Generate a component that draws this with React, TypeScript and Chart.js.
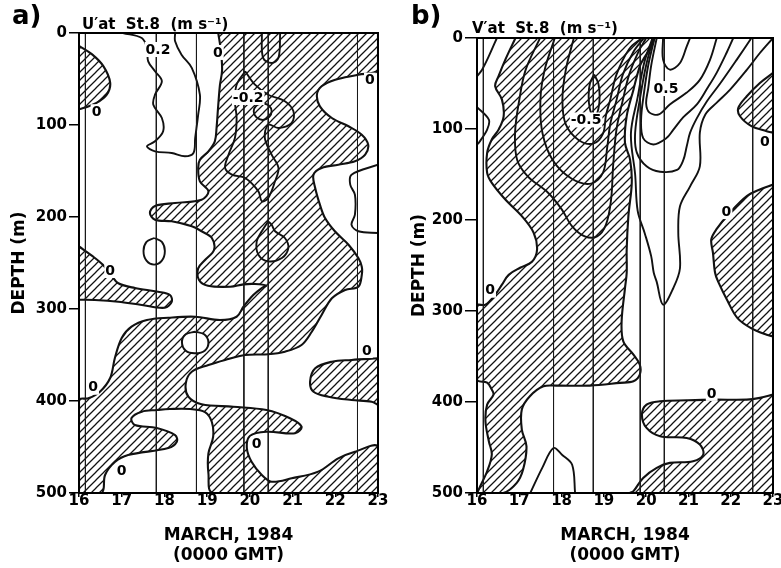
import { useEffect, useRef } from 'react';
import { Chart, registerables } from 'chart.js';

Chart.register(...registerables);

type P = [number, number];
type Label = [string, number, number];

// ---------- axes ----------
const xTickValues = [16, 17, 18, 19, 20, 21, 22, 23];
const depthTickValues = [0, 100, 200, 300, 400, 500];
const xTitle = ['MARCH, 1984', '(0000 GMT)'];
const yTitle = 'DEPTH (m)';
// station (vertical) lines, days of March 1984
const stationTimes = [16.15, 17.81, 18.75, 19.86, 20.43, 22.52];

// ---------- panel a : U' ----------
const aLobe: P[] = [[16, 14], [16.3, 23], [16.57, 36], [16.73, 54], [16.65, 67], [16.41, 76], [16.14, 81], [16, 83]];
const aTongue: P[] = [[16, 232], [16.3, 242], [16.56, 252], [16.75, 263], [16.92, 272], [17.31, 277.2], [17.85, 281.2], [18.13, 284.8], [18.17, 292.1], [18.01, 298.6], [17.47, 295.7], [16.92, 292.1], [16.37, 290.2], [16, 290]];
const aMain: P[] = [
  [19.26, 0], [23, 0], [23, 40],
  [22.54, 45.3], [22.0, 50.8], [21.68, 57.9], [21.57, 67.1], [21.64, 79.7], [21.92, 92.4], [22.31, 101.4], [22.62, 110.5], [22.77, 121.4], [22.7, 132.3], [22.46, 139.5], [22.07, 143.2], [21.68, 146.7], [21.49, 154], [21.53, 168.5], [21.64, 186.6], [21.76, 201.1], [21.99, 215.5], [22.31, 230.1], [22.54, 244.6], [22.62, 254], [22.62, 263], [22.54, 275.8], [22.23, 279.3], [21.92, 288.4], [21.68, 306.5], [21.45, 324.7], [21.21, 339.1], [20.82, 346.4], [20.43, 349.2], [19.89, 350], [19.42, 355.4], [19.03, 360.9], [18.64, 368.2], [18.5, 380.8], [18.56, 395.3], [18.87, 403.6], [19.61, 406.2], [20.39, 409.8], [20.94, 418.8], [21.21, 427.9], [21.06, 435.1], [20.39, 433.4], [20.0, 438], [19.93, 451.4], [20.04, 466], [20.28, 480.4], [20.51, 487.7], [20.98, 484], [21.6, 476.8], [22.07, 462.3], [22.46, 455.1], [23, 449.7],
  [23, 500], [19.14, 500],
  [19.03, 478.6], [19.03, 456.9], [19.14, 439.1], [19.11, 422.8], [18.95, 412], [18.6, 408.7], [18.13, 408.7], [17.82, 409.8], [17.47, 411.6], [17.23, 418.5], [17.31, 426.1], [17.82, 429.3], [18.25, 437], [18.29, 444.2], [18.09, 451.1], [17.15, 458.7], [16.84, 466.3], [16.61, 480.4], [16.53, 500],
  [16, 500], [16, 399],
  [16.22, 397.1], [16.49, 389.9], [16.73, 375], [16.84, 353.3], [17.0, 331.5], [17.23, 319.2], [17.59, 312], [18.09, 309.5], [18.72, 308.4], [19.3, 312], [19.69, 308.4], [19.85, 297.5], [20.08, 284.8], [20.28, 277.2], [20.38, 274.5],
  [20.12, 272.8], [19.85, 273.2], [19.54, 275.8], [19.02, 274.7], [18.81, 268.5], [18.79, 255.8], [18.95, 246.7], [19.16, 235.9], [19.11, 222.8], [18.87, 215.5], [18.64, 210.1], [18.17, 204.7], [17.78, 202.9], [17.66, 195.7], [17.78, 188], [18.25, 184.8], [18.87, 181.2], [19.03, 172.1], [18.83, 161.2], [18.79, 146.7], [18.83, 137.7], [19.03, 128.6], [19.18, 117.7], [19.22, 103.3], [19.26, 78.3], [19.3, 56.5], [19.35, 40.2], [19.32, 18.5], [19.26, 0],
];
const aRightTongue: P[] = [[23, 353.6], [22.38, 355.4], [21.92, 357.3], [21.53, 364.5], [21.41, 379], [21.49, 389.9], [21.84, 395.3], [22.38, 398.9], [22.85, 400.8], [23, 404.3]];
const aHole: P[] = [[18.72, 324.7], [18.93, 327.5], [19.03, 336], [18.95, 345], [18.72, 348.2], [18.5, 345.5], [18.41, 336], [18.5, 327.5], [18.72, 324.7]];

const aLine02: P[] = [[17.03, 0], [17.47, 5.4], [17.59, 16.3], [17.62, 30.8], [17.78, 41.6], [17.94, 52.5], [17.78, 67], [17.74, 77.9], [17.94, 92.4], [17.97, 106.8], [17.78, 117.7], [17.59, 123.2], [17.78, 128.6], [18.17, 130.4], [18.48, 134], [18.68, 130.4], [18.72, 114.1], [18.79, 88.8], [18.83, 67], [18.64, 38], [18.4, 23.6], [18.25, 9], [18.25, 0]];
const aLoopSmall: P[] = [[17.76, 222.8], [17.94, 227], [18.01, 237], [17.94, 247.5], [17.76, 251.8], [17.58, 247.5], [17.51, 237], [17.58, 227], [17.76, 222.8]];
const aNeg02: P[] = [[19.89, 41.6], [20.12, 56.2], [20.43, 67.1], [20.82, 74.2], [21.02, 85.1], [20.98, 97.8], [20.67, 103.3], [20.43, 99.7], [20.35, 114.1], [20.51, 132.3], [20.67, 146.7], [20.59, 161.2], [20.43, 179.3], [20.28, 182.9], [20.2, 172.1], [19.89, 157.6], [19.58, 154], [19.42, 146.7], [19.5, 132.3], [19.65, 114.1], [19.69, 92.4], [19.65, 74.2], [19.69, 56.2], [19.89, 41.6]];
const aNegInner: P[] = [[20.3, 76], [20.45, 79], [20.51, 85], [20.45, 91.5], [20.3, 94.5], [20.15, 91.5], [20.09, 85], [20.15, 79], [20.3, 76]];
const aLoopMid: P[] = [[20.43, 204.7], [20.28, 215.5], [20.16, 226.4], [20.2, 241], [20.43, 248.2], [20.75, 244.6], [20.9, 233.7], [20.82, 222.8], [20.59, 215.5], [20.51, 208.4], [20.43, 204.7]];
const aTopU: P[] = [[20.28, 0], [20.31, 27], [20.51, 32.6], [20.67, 27], [20.71, 0]];
const aRightBulge: P[] = [[23, 143.2], [22.38, 154], [22.35, 164.9], [22.46, 175.8], [22.46, 197.5], [22.38, 208.4], [22.54, 215.5], [23, 217.4]];

const aLabels: Label[] = [
  ['0.2', 17.85, 17.4], ['0', 19.25, 20.6], ['0', 22.81, 50.7], ['-0.2', 19.96, 69.6], ['0', 16.41, 85],
  ['0', 16.73, 257.6], ['0', 22.74, 344.6], ['0', 16.33, 384.5], ['0', 17.0, 475], ['0', 20.16, 446],
];

// ---------- panel b : V' ----------
const bMain: P[] = [
  [16.91, 0], [20.12, 0],
  [19.85, 31.1], [19.7, 56.8], [19.54, 85.9], [19.5, 115.3], [19.62, 133.6], [19.66, 159.2], [19.58, 195.7], [19.54, 232.4], [19.54, 258], [19.5, 274.8], [19.42, 311.4], [19.46, 333.4], [19.7, 348], [19.85, 359], [19.85, 369.9], [19.7, 377.3], [19.38, 379], [18.67, 382], [17.88, 382], [17.57, 382.8], [17.25, 393.7], [17.06, 408.3], [17.06, 430.3], [17.17, 448.6], [17.09, 474.2], [16.94, 488.8], [16.62, 500],
  [16.02, 500], [16.04, 496.2], [16.24, 476.1], [16.35, 457.7], [16.28, 443.1], [16.2, 421.2], [16.24, 402.9], [16.39, 391.9], [16.35, 386.4], [16.24, 378.7], [16, 375.4],
  [16, 294.2], [16.2, 293.1], [16.43, 282.1], [16.59, 271.1], [16.75, 260.2], [17.02, 252.5], [17.3, 245.9], [17.42, 232.7], [17.34, 214], [17.06, 195.7], [16.67, 177.5], [16.35, 159.2], [16.24, 148.2], [16.24, 126.2], [16.35, 111.6], [16.51, 100.7], [16.63, 86], [16.59, 67.7], [16.43, 53], [16.51, 42], [16.67, 23.8], [16.91, 0],
];
const bLobeTop: P[] = [[23, 38.4], [22.69, 49.4], [22.38, 64], [22.18, 76.8], [22.22, 86], [22.49, 96.9], [22.85, 102.4], [23, 104.3]];
const bLobeMid: P[] = [[23, 161], [22.69, 166.5], [22.38, 173.8], [21.98, 192.1], [21.66, 210.4], [21.54, 221.4], [21.58, 236], [21.63, 258], [21.7, 267.5], [21.93, 289.4], [22.16, 307.8], [22.48, 318.8], [22.85, 326.1], [23, 327.9]];
const bBottom: P[] = [[23, 391.9], [22.69, 395.5], [22.38, 397.4], [21.59, 397.4], [20.96, 398.1], [20.33, 399.2], [20.01, 402.9], [19.9, 413.9], [20.01, 428.5], [20.33, 437.7], [20.96, 439.5], [21.27, 446.8], [21.35, 457.8], [21.11, 465.1], [20.56, 466.9], [20.25, 472.4], [19.93, 483.4], [19.7, 498], [19.62, 500], [23, 500]];

const bTopLeft: P[] = [[16.47, 0], [16.28, 20], [16.12, 34.8], [16, 42]];
const bBump: P[] = [[16, 76], [16.28, 89.7], [16.24, 100.7], [16.04, 115.3], [16, 117]];
const bTent: P[] = [[17.26, 500], [17.54, 472.6], [17.81, 450.6], [18.01, 458], [18.25, 469], [18.32, 500]];
const bNeg1: P[] = [[17.49, 0], [17.15, 35], [17.0, 68], [16.9, 104], [16.95, 134], [17.2, 152], [17.68, 170], [18.0, 188], [18.25, 207], [18.55, 218], [18.84, 218], [19.05, 205], [19.17, 178], [19.22, 140], [19.3, 100], [19.45, 68], [19.6, 40], [19.82, 15], [20.0, 0]];
const bNeg2: P[] = [[17.84, 0], [17.6, 35], [17.5, 68], [17.55, 105], [17.8, 135], [18.25, 155], [18.7, 160], [18.98, 148], [19.08, 120], [19.15, 95], [19.3, 68], [19.45, 40], [19.7, 15], [19.95, 0]];
const bNeg3: P[] = [[18.29, 0], [18.1, 35], [18.02, 68], [18.1, 95], [18.4, 112], [18.75, 116], [18.98, 105], [19.05, 85], [19.15, 68], [19.3, 40], [19.6, 12], [19.9, 0]];
const bNeg4: P[] = [[18.77, 40], [18.87, 50], [18.9, 64], [18.87, 78], [18.77, 88], [18.67, 78], [18.64, 64], [18.67, 50], [18.77, 40]];
const bPos1: P[] = [[20.15, 0], [19.95, 28], [19.8, 65], [19.64, 105], [19.74, 150], [19.8, 190], [19.97, 215], [20.12, 240], [20.18, 258], [20.25, 268], [20.4, 293], [20.64, 275], [20.8, 253], [20.76, 214], [20.8, 185], [21.04, 163], [21.27, 141], [21.27, 104], [21.4, 84], [21.67, 71], [21.98, 57], [22.38, 35], [22.69, 16.5], [23, 0]];
const bPos2: P[] = [[20.17, 0], [20.0, 30], [19.86, 65], [19.74, 104], [19.78, 126], [20.01, 141], [20.33, 147], [20.73, 145], [20.88, 134], [20.96, 119], [21.04, 104], [21.2, 88], [21.43, 70], [21.75, 50], [22.14, 24], [22.49, 0]];
const bPos3: P[] = [[20.2, 0], [20.05, 30], [19.95, 60], [19.88, 90], [19.93, 110], [20.17, 117], [20.48, 110], [20.64, 101], [20.88, 87], [21.2, 73], [21.45, 55], [21.67, 38], [21.9, 16.5], [22.06, 0]];
const bPos4: P[] = [[20.25, 0], [20.12, 30], [20.05, 55], [20.0, 72], [20.08, 82], [20.3, 84], [20.56, 73], [20.96, 60], [21.27, 46], [21.51, 24], [21.67, 0]];
const bPos5: P[] = [[20.4, 0], [20.4, 23.8], [20.56, 34.8], [20.8, 27.4], [20.96, 9.1], [21.04, 0]];

const bLabels: Label[] = [
  ['0', 16.31, 276.6], ['-0.5', 18.58, 89.5], ['0.5', 20.47, 55], ['0', 22.81, 113.4], ['0', 21.9, 190.2], ['0', 21.55, 390],
];

// ---------- rendering ----------
const FONT = '"DejaVu Sans", "Liberation Sans", Arial, sans-serif';

interface PanelCfg {
  hatch: P[][];
  holes: P[][];
  lines: P[][];
  labels: Label[];
  tag: string;
  sub: string;
  padLeft: number;
  padRight: number;
  padTop: number;
  yWidth: number;
  yTick: number;
  yTitlePad: number;
  tagX: number;
  tagY: number;
  subX: number;
  subY: number;
}

const panelA: PanelCfg = {
  hatch: [aLobe, aTongue, aMain, aRightTongue],
  holes: [aHole],
  lines: [aLine02, aLoopSmall, aNeg02, aNegInner, aLoopMid, aTopU, aRightBulge],
  labels: aLabels,
  tag: 'a)',
  sub: 'U\u2032at  St.8  (m s\u207B\u00B9)',
  padLeft: 0, padRight: 403, padTop: 33, yWidth: 79, yTick: 10, yTitlePad: 9,
  tagX: 12, tagY: 24, subX: 82, subY: 29,
};

const panelB: PanelCfg = {
  hatch: [bMain, bLobeTop, bLobeMid, bBottom],
  holes: [],
  lines: [bTopLeft, bBump, bTent, bNeg1, bNeg2, bNeg3, bNeg4, bPos1, bPos2, bPos3, bPos4, bPos5],
  labels: bLabels,
  tag: 'b)',
  sub: 'V\u2032at  St.8  (m s\u207B\u00B9)',
  padLeft: 390, padRight: 8, padTop: 38, yWidth: 87, yTick: 12, yTitlePad: 19,
  tagX: 411, tagY: 24, subX: 472, subY: 33,
};

function makeHatch(): CanvasPattern | string {
  const c = document.createElement('canvas');
  c.width = 8;
  c.height = 8;
  const g = c.getContext('2d');
  if (!g) return '#888';
  g.strokeStyle = '#111';
  g.lineWidth = 1.25;
  g.beginPath();
  g.moveTo(-2, 10); g.lineTo(10, -2);
  g.moveTo(-2, 2); g.lineTo(2, -2);
  g.moveTo(6, 10); g.lineTo(10, 6);
  g.stroke();
  return g.createPattern(c, 'repeat') || '#888';
}

const pts = (p: P[]) => p.map(([x, y]) => ({ x, y }));

function buildDatasets(cfg: PanelCfg, pattern: CanvasPattern | string) {
  const common = { pointRadius: 0, pointHoverRadius: 0, clip: 0 as any };
  const out: any[] = [];
  for (const t of stationTimes) {
    out.push({ ...common, data: [{ x: t, y: 0 }, { x: t, y: 500 }], borderColor: '#1a1a1a', borderWidth: 1, tension: 0, fill: false, order: 1 });
  }
  for (const l of cfg.lines) {
    out.push({ ...common, data: pts(l), borderColor: '#111', borderWidth: 1.9, tension: 0.35, fill: false, order: 2 });
  }
  for (const h of cfg.holes) {
    out.push({ ...common, data: pts(h), borderColor: '#111', borderWidth: 2, backgroundColor: '#fff', tension: 0.35, fill: 'shape', order: 3 });
  }
  for (const h of cfg.hatch) {
    out.push({ ...common, data: pts(h), borderColor: '#111', borderWidth: 2.1, backgroundColor: pattern, tension: 0.35, fill: 'shape', order: 4 });
  }
  return out;
}

function makeDecor(cfg: PanelCfg) {
  return {
    id: 'decor',
    afterDatasetsDraw(chart: any) {
      const { ctx, chartArea: a, scales } = chart;
      ctx.save();
      ctx.strokeStyle = '#000';
      ctx.lineWidth = 2;
      ctx.strokeRect(a.left, a.top, a.right - a.left, a.bottom - a.top);
      ctx.font = `bold 14px ${FONT}`;
      ctx.textAlign = 'center';
      ctx.textBaseline = 'middle';
      for (const [t, x, y] of cfg.labels) {
        const px = scales.x.getPixelForValue(x);
        const py = scales.y.getPixelForValue(y);
        const w = ctx.measureText(t).width;
        ctx.fillStyle = '#fff';
        ctx.fillRect(px - w / 2 - 1, py - 7, w + 2, 15);
        ctx.fillStyle = '#000';
        ctx.fillText(t, px, py + 1);
      }
      ctx.textAlign = 'left';
      ctx.textBaseline = 'alphabetic';
      ctx.fillStyle = '#000';
      ctx.font = `bold 26px ${FONT}`;
      ctx.fillText(cfg.tag, cfg.tagX, cfg.tagY);
      ctx.font = `bold 15px ${FONT}`;
      ctx.fillText(cfg.sub, cfg.subX, cfg.subY);
      ctx.restore();
    },
  };
}

function buildConfig(cfg: PanelCfg, pattern: CanvasPattern | string): any {
  const tickFont = { family: FONT, weight: 'bold', size: 15, lineHeight: 1 };
  return {
    type: 'line',
    data: { datasets: buildDatasets(cfg, pattern) },
    options: {
      responsive: false,
      animation: false,
      devicePixelRatio: 1,
      events: [],
      layout: { padding: { left: cfg.padLeft, right: cfg.padRight, top: cfg.padTop, bottom: 0 } },
      plugins: { legend: { display: false }, tooltip: { enabled: false } },
      scales: {
        x: {
          type: 'linear',
          min: 16,
          max: 23,
          afterBuildTicks: (s: any) => { s.ticks = xTickValues.map((v) => ({ value: v })); },
          afterFit: (s: any) => { s.height = 75; s.paddingLeft = 0; s.paddingRight = 0; },
          border: { display: false },
          grid: { drawOnChartArea: false, drawTicks: true, tickLength: 4, color: '#000', lineWidth: 1.5 },
          ticks: { color: '#000', font: tickFont, padding: -3, maxRotation: 0, autoSkip: false },
          title: {
            display: true,
            text: xTitle,
            color: '#000',
            font: { family: FONT, weight: 'bold', size: 17, lineHeight: '20px' },
            padding: { top: 0, bottom: 2.5 },
          },
        },
        y: {
          type: 'linear',
          reverse: true,
          min: 0,
          max: 500,
          afterBuildTicks: (s: any) => { s.ticks = depthTickValues.map((v) => ({ value: v })); },
          afterFit: (s: any) => { s.width = cfg.yWidth; s.paddingTop = 0; s.paddingBottom = 0; },
          border: { display: false },
          grid: { drawOnChartArea: false, drawTicks: true, tickLength: cfg.yTick, color: '#000', lineWidth: 1.5 },
          ticks: { color: '#000', font: tickFont, padding: 2, autoSkip: false },
          title: {
            display: true,
            text: yTitle,
            color: '#000',
            font: { family: FONT, weight: 'bold', size: 17 },
            padding: { top: cfg.yTitlePad, bottom: 0 },
          },
        },
      },
    },
    plugins: [makeDecor(cfg)],
  };
}

function Panel({ cfg }: { cfg: PanelCfg }) {
  const ref = useRef<HTMLCanvasElement>(null);
  useEffect(() => {
    if (!ref.current) return;
    const chart = new Chart(ref.current, buildConfig(cfg, makeHatch()));
    return () => chart.destroy();
  }, [cfg]);
  return <canvas ref={ref} width={781} height={568} style={{ position: 'absolute', left: 0, top: 0 }} />;
}

export default function App() {
  return (
    <div style={{ position: 'absolute', left: 0, top: 0, width: 781, height: 568, background: '#fff', overflow: 'hidden' }}>
      <Panel cfg={panelA} />
      <Panel cfg={panelB} />
    </div>
  );
}
